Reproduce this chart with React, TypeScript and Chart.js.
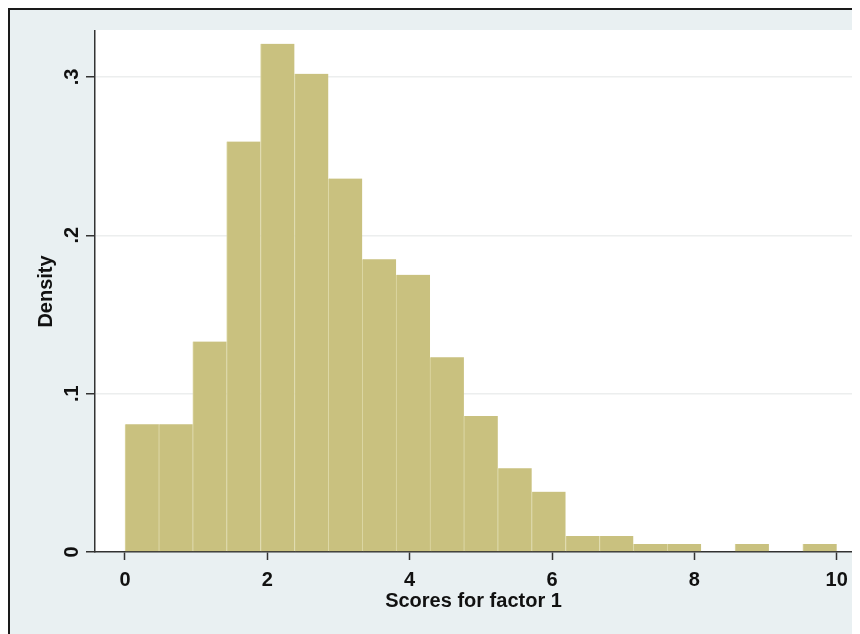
import React, { useEffect, useRef } from "react";
import { Chart, registerables } from "chart.js";

Chart.register(...registerables);

// Histogram bin edges (21 equal bins from 0 to 10)
const BIN_EDGES = [
  0, 0.4762, 0.9524, 1.4286, 1.9048, 2.381, 2.8571, 3.3333, 3.8095, 4.2857,
  4.7619, 5.2381, 5.7143, 6.1905, 6.6667, 7.1429, 7.619, 8.0952, 8.5714,
  9.0476, 9.5238, 10,
];

// Density of each bin
const DENSITY = [
  0.0807, 0.0807, 0.1329, 0.2592, 0.3209, 0.302, 0.2358, 0.1849, 0.175,
  0.123, 0.0859, 0.0529, 0.0381, 0.0101, 0.0101, 0.0051, 0.0051, 0, 0.0051,
  0, 0.0051,
];

const X_TICKS = [0, 2, 4, 6, 8, 10];
const Y_TICKS = [0, 0.1, 0.2, 0.3];

const X_TITLE = "Scores for factor 1";
const Y_TITLE = "Density";

const FONT_FAMILY = "'Liberation Sans', Arial, Helvetica, sans-serif";

export default function App() {
  const canvasRef = useRef<HTMLCanvasElement | null>(null);

  useEffect(() => {
    const canvas = canvasRef.current;
    if (!canvas) return;

    const points = DENSITY.map((d, i) => ({
      x: (BIN_EDGES[i] + BIN_EDGES[i + 1]) / 2,
      y: d,
    }));

    const plotBg = {
      id: "plotBg",
      beforeDraw(chart: any) {
        const { ctx, chartArea } = chart;
        ctx.save();
        ctx.fillStyle = "#ffffff";
        ctx.fillRect(
          chartArea.left,
          chartArea.top - 1,
          chartArea.right - chartArea.left,
          chartArea.bottom - chartArea.top + 1
        );
        ctx.restore();
      },
    };

    const chart = new Chart(canvas, {
      type: "bar",
      data: {
        datasets: [
          {
            data: points,
            backgroundColor: "#c9c17f",
            borderColor: "#ddd8a6",
            borderWidth: { left: 1, right: 0, top: 0, bottom: 0 },
            borderSkipped: false,
            barPercentage: 1,
            categoryPercentage: 1,
          },
        ],
      },
      options: {
        animation: false,
        responsive: false,
        devicePixelRatio: 1,
        layout: { padding: { top: 21, right: 8, left: 0, bottom: 0 } },
        plugins: {
          legend: { display: false },
          tooltip: { enabled: false },
        },
        scales: {
          x: {
            type: "linear",
            min: -0.4215,
            max: 10.215,
            offset: false,
            afterFit: (scale: any) => {
              scale.height = 82;
            },
            afterBuildTicks: (scale: any) => {
              scale.ticks = X_TICKS.map((v) => ({ value: v }));
            },
            ticks: {
              includeBounds: false,
              autoSkip: false,
              maxRotation: 0,
              minRotation: 0,
              padding: 8,
              color: "#111111",
              font: { family: FONT_FAMILY, size: 20, weight: "bold" },
              callback: (v: any) => String(v),
            },
            grid: {
              offset: false,
              drawOnChartArea: false,
              drawTicks: true,
              tickLength: 8,
              tickColor: "#333333",
              tickWidth: 1.5,
            },
            border: { display: true, color: "#333333", width: 1.5 },
            title: {
              display: true,
              text: X_TITLE,
              color: "#111111",
              font: { family: FONT_FAMILY, size: 20, weight: "bold", lineHeight: 1.2 },
              padding: { top: 0, bottom: 21 },
            },
          },
          y: {
            type: "linear",
            min: 0,
            max: 0.329,
            afterFit: (scale: any) => {
              scale.width = 85;
            },
            afterBuildTicks: (scale: any) => {
              scale.ticks = Y_TICKS.map((v) => ({ value: v }));
            },
            ticks: {
              includeBounds: false,
              autoSkip: false,
              minRotation: 90,
              maxRotation: 90,
              crossAlign: "center",
              padding: 5,
              color: "#111111",
              font: { family: FONT_FAMILY, size: 20, weight: "bold" },
              callback: (v: any) =>
                v === 0 ? "0" : Number(v).toFixed(1).replace(/^0/, ""),
            },
            grid: {
              drawOnChartArea: true,
              color: (ctx: any) =>
                ctx.tick && ctx.tick.value === 0 ? "rgba(0,0,0,0)" : "#eceeee",
              lineWidth: 1.5,
              drawTicks: true,
              tickLength: 9,
              tickColor: "#333333",
              tickWidth: 1.5,
            },
            border: { display: true, color: "#333333", width: 1.5 },
            title: {
              display: true,
              text: Y_TITLE,
              color: "#111111",
              font: { family: FONT_FAMILY, size: 20, weight: "bold", lineHeight: 1.2 },
              padding: { top: 24, bottom: 0 },
            },
          },
        },
      },
      plugins: [plotBg],
    } as any);

    return () => {
      chart.destroy();
    };
  }, []);

  return (
    <div
      style={{
        width: 852,
        height: 626,
        boxSizing: "border-box",
        borderTop: "2px solid #1a1a1a",
        borderLeft: "2px solid #1a1a1a",
        background: "#e9f0f2",
        overflow: "hidden",
      }}
    >
      <canvas ref={canvasRef} width={850} height={624} style={{ display: "block" }} />
    </div>
  );
}
